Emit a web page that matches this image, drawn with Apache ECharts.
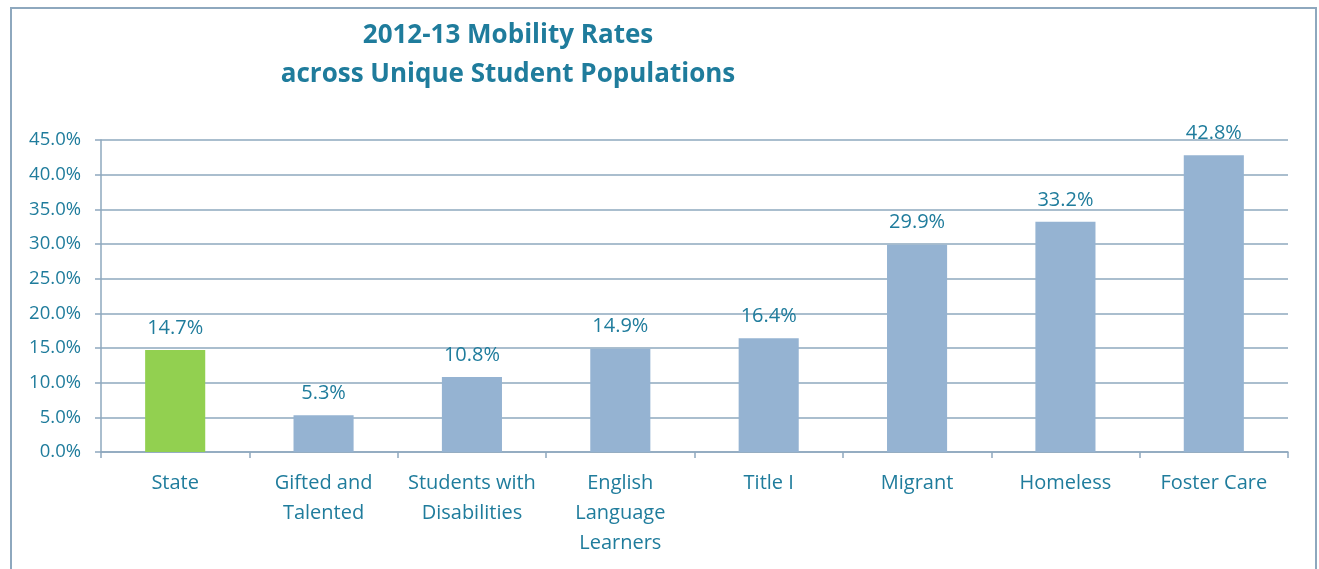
<!DOCTYPE html>
<html><head><meta charset="utf-8">
<script src="https://cdn.jsdelivr.net/npm/echarts@6/dist/echarts.min.js"></script>
<style>html,body{margin:0;padding:0;background:#fff}#c{width:1319px;height:569px}</style>
</head><body><div id="c"></div>
<script>
const categories = ["State", "Gifted and\nTalented", "Students with\nDisabilities", "English\nLanguage\nLearners", "Title I", "Migrant", "Homeless", "Foster Care"];
const rates = [14.7, 5.3, 10.8, 14.9, 16.4, 29.9, 33.2, 42.8];
const barColors = ["#92D050", "#95B3D2", "#95B3D2", "#95B3D2", "#95B3D2", "#95B3D2", "#95B3D2", "#95B3D2"];
const titleLines = ["2012-13 Mobility Rates", "across Unique Student Populations"];

const textColor = "#1F7C9C";
const lineColor = "#8EA8BE";
const font = "Open Sans";

const chart = echarts.init(document.getElementById('c'), null, {renderer: 'canvas'});
chart.setOption({
  animation: false,
  backgroundColor: '#fff',
  title: {
    text: titleLines.join('\n'),
    left: 503, top: 11, textAlign: 'center',
    textStyle: {color: textColor, fontFamily: font, fontWeight: 'bold', fontSize: 26, lineHeight: 39}
  },
  graphic: [{
    type: 'rect', shape: {x: 11, y: 8, width: 1305, height: 580},
    style: {fill: 'none', stroke: lineColor, lineWidth: 2}, silent: true
  }],
  grid: {left: 101, right: 31, top: 140, bottom: 117},
  xAxis: {
    type: 'category', data: categories,
    axisLine: {lineStyle: {color: lineColor, width: 1.5}},
    axisTick: {show: true, interval: 0, length: 6, lineStyle: {color: lineColor, width: 1.5}},
    axisLabel: {interval: 0, color: textColor, fontFamily: font, fontSize: 20, lineHeight: 30, margin: 16}
  },
  yAxis: {
    type: 'value', min: 0, max: 45, interval: 5,
    axisLine: {show: true, lineStyle: {color: lineColor, width: 1.5}},
    axisTick: {show: true, length: 6, lineStyle: {color: lineColor, width: 1.5}},
    splitLine: {lineStyle: {color: lineColor, width: 1.5}},
    axisLabel: {color: textColor, fontFamily: font, fontSize: 18.5, margin: 20, formatter: v => v.toFixed(1) + '%'}
  },
  series: [{
    type: 'bar', data: rates.map((v, i) => ({value: v, itemStyle: {color: barColors[i]}})),
    barWidth: '40.5%',
    label: {show: true, position: 'top', distance: 12, color: textColor, fontFamily: font, fontSize: 20,
      formatter: p => p.value.toFixed(1) + '%'}
  }]
});
</script></body></html>
